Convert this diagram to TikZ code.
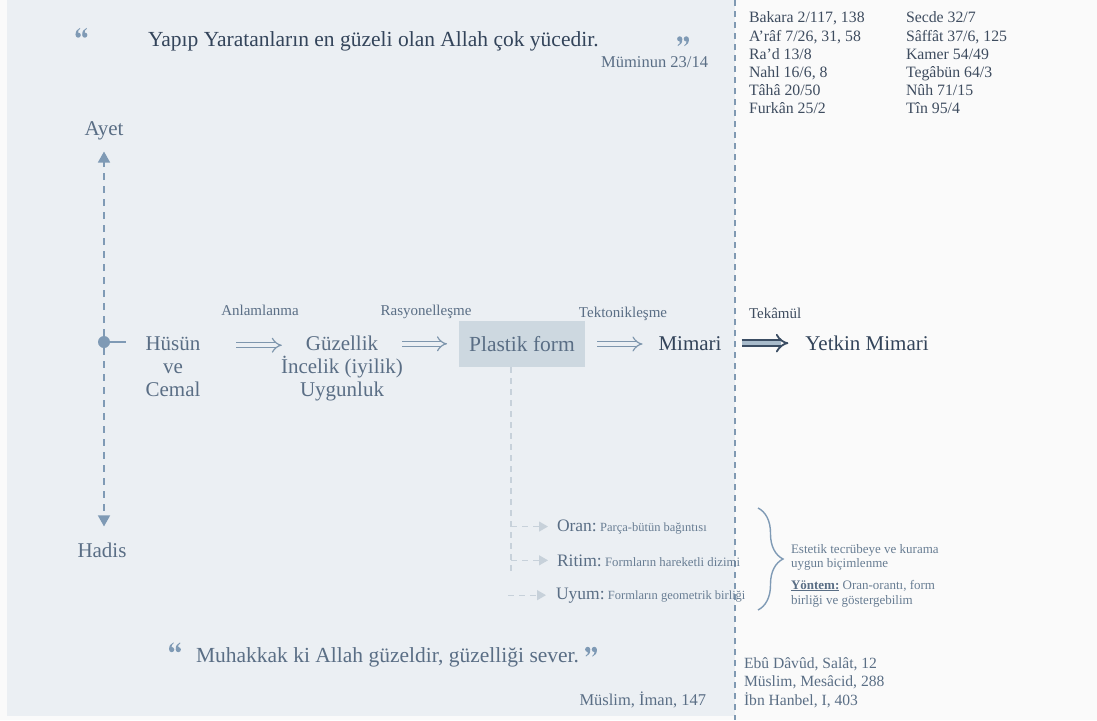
\documentclass[tikz,border=0pt]{standalone}
\usepackage{fontspec}
\setmainfont{Liberation Serif}
\usetikzlibrary{arrows.meta,decorations.pathreplacing,calc}

\definecolor{pagebg}{HTML}{FAFAFA}
\definecolor{panel}{HTML}{EBEFF3}
\definecolor{midtext}{HTML}{5A6E85}
\definecolor{darktext}{HTML}{33445A}
\definecolor{listtext}{HTML}{3E4C5F}
\definecolor{accent}{HTML}{7F9AB5}
\definecolor{hollowc}{HTML}{7E96AD}
\definecolor{divider}{HTML}{8099B2}
\definecolor{boxfill}{HTML}{CDD8E0}
\definecolor{branchc}{HTML}{C7D1DA}
\definecolor{thickedge}{HTML}{3B4D63}
\definecolor{thickfill}{HTML}{A8BBCB}
\definecolor{notetext}{HTML}{687D93}

\tikzset{
  every node/.style={inner sep=0pt, outer sep=0pt},
  big/.style={font=\fontsize{21}{23}\selectfont, text=midtext},
  verse/.style={font=\fontsize{21.5}{24}\selectfont},
  source/.style={font=\fontsize{16.5}{18}\selectfont, text=midtext},
  stage/.style={font=\fontsize{15}{17}\selectfont, text=midtext},
  reflist/.style={font=\fontsize{15.8}{18}\selectfont, text=listtext},
  hadislist/.style={font=\fontsize{15.6}{18}\selectfont, text=midtext},
  note/.style={font=\fontsize{13}{14}\selectfont, text=notetext},
  hollow/.style={draw=hollowc, double=panel, double distance=4pt, line width=1.2pt, -{Implies[scale=1.15]}},
  thick arrow/.style={draw=thickedge, double=thickfill, double distance=4.5pt, line width=1.8pt, -{Implies[scale=1.3]}},
  axis/.style={draw=accent, line width=1.5pt, dash pattern=on 7pt off 6pt, -{Triangle[length=11pt,width=12pt]}},
  branch/.style={draw=branchc, line width=1.3pt, dash pattern=on 6pt off 5pt, -{Triangle[length=9pt,width=10pt]}},
  divline/.style={draw=divider, line width=1.3pt, dash pattern=on 6pt off 5pt},
  bracket/.style={draw=accent, line width=1.4pt, decorate, decoration={brace, amplitude=25pt}},
  % closing quotation mark: two comma shapes, ball on top, tail below
  closeq/.pic={
    \foreach \dx in {-3.3,3.3}{
      \fill[accent] (\dx,-1.6) circle (2.6pt);
      \fill[accent] ({\dx+2.55},-1.4) .. controls ({\dx+2.8},2) and ({\dx+1.2},4.4) .. ({\dx-1.8},5.6)
        -- ({\dx-2},4.7) .. controls ({\dx-0.2},3.7) and ({\dx+0.6},2.2) .. ({\dx},0.9) -- cycle;
    }
  },
  openq/.pic={
    \pic[rotate=180] {closeq};
  },
}

\begin{document}
\begin{tikzpicture}[x=1pt, y=-1pt]
\useasboundingbox (0,0) rectangle (1097,720);
\fill[pagebg] (0,0) rectangle (1097,720);
\fill[panel] (7,0) rectangle (735,716);

% divider between the two columns
\coordinate (divtop) at (735,0);
\coordinate (divbot) at (735,720);
\draw[divline] (divtop) -- (divbot);

% upper verse
\pic (qo1) at (81.5,33.5) {openq};
\node[verse, text=darktext, anchor=base west] (verse1) at (148,46) {Yapıp Yaratanların en güzeli olan Allah çok yücedir.};
\pic (qc1) at (683,40.5) {closeq};
\node[source, anchor=base east] (src1) at (708,67) {Müminun 23/14};

% verse references
\foreach \t [count=\i] in {{Bakara 2/117, 138},{A’râf 7/26, 31, 58},{Ra’d 13/8},{Nahl 16/6, 8},{Tâhâ 20/50},{Furkân 25/2}}
  \node[reflist, anchor=base west] (refa\i) at (749,{23+18*(\i-1)}) {\t};
\foreach \t [count=\i] in {{Secde 32/7},{Sâffât 37/6, 125},{Kamer 54/49},{Tegâbün 64/3},{Nûh 71/15},{Tîn 95/4}}
  \node[reflist, anchor=base west] (refb\i) at (906,{23+18*(\i-1)}) {\t};

% sources axis
\node[big, anchor=base] (ayet) at (104,135) {Ayet};
\node[big, anchor=base] (hadis) at (102,557) {Hadis};
\node[circle, fill=accent, minimum size=12pt] (hub) at (104,342) {};
\draw[axis, shorten >=12pt] (hub) -- (hub |- ayet.south);
\draw[axis, shorten >=16pt] (hub) -- (hub |- hadis.north);

% main chain
\node[big, anchor=base] (husun) at (173,350) {Hüsün};
\node[big, anchor=base] (husun2) at (173,373) {ve};
\node[big, anchor=base] (husun3) at (173,396) {Cemal};
\draw[draw=accent, line width=1.5pt, shorten >=20pt] (hub) -- (hub -| husun.west);

\node[big, anchor=base] (guz) at (342,350) {Güzellik};
\node[big, anchor=base] (guz2) at (342,373) {İncelik (iyilik)};
\node[big, anchor=base] (guz3) at (342,396) {Uygunluk};

\node[fill=boxfill, minimum width=126pt, minimum height=46pt, font=\fontsize{21.5}{23}\selectfont, text=midtext] (plastik) at (522,344) {Plastik form};
\node[big, text=darktext, anchor=base] (mimari) at (690,350) {Mimari};
\node[big, text=darktext, anchor=base] (yetkin) at (867,350) {Yetkin Mimari};

\node[stage, anchor=base] (l1) at (260,315) {Anlamlanma};
\node[stage, anchor=base] (l2) at (426,315) {Rasyonelleşme};
\node[stage, anchor=base] (l3) at (623,317) {Tektonikleşme};
\node[stage, text=listtext, anchor=base west] (l4) at (749,318) {Tekâmül};

\draw[hollow, shorten <=36pt, shorten >=24pt] ([yshift=-2pt]husun.east) -- ([yshift=-2pt]husun.east -| guz.west);
\draw[hollow, shorten <=24pt, shorten >=12pt] ([yshift=-1pt]guz.east) -- ([yshift=-1pt]guz.east -| plastik.west);
\draw[hollow, shorten <=12pt, shorten >=16pt] (plastik.east) -- (plastik.east -| mimari.west);
\draw[thick arrow, shorten <=20pt, shorten >=17pt] (mimari.east) -- (mimari.east -| yetkin.west);

% form principles
\node[anchor=base west, text=midtext] (oran) at (557,531) {{\fontsize{17.5}{20}\selectfont Oran:} {\fontsize{12.5}{14}\selectfont\color{notetext}Parça-bütün bağıntısı}};
\node[anchor=base west, text=midtext] (ritim) at (557,566) {{\fontsize{17.5}{20}\selectfont Ritim:} {\fontsize{12.8}{14}\selectfont\color{notetext}Formların hareketli dizimi}};
\node[anchor=base west, text=midtext] (uyum) at (556,599) {{\fontsize{17.5}{20}\selectfont Uyum:} {\fontsize{12.5}{14}\selectfont\color{notetext}Formların geometrik birliği}};

\coordinate (vbot) at (511,575);
\draw[draw=branchc, line width=1.3pt, dash pattern=on 6pt off 5pt] (plastik.south -| vbot) -- (vbot);
\draw[branch, shorten >=9pt] (oran.west -| vbot) -- (oran.west);
\draw[branch, shorten >=9pt] (ritim.west -| vbot) -- (ritim.west);
\draw[branch, shorten <=3pt, shorten >=10pt] ([xshift=-51pt]uyum.west) -- (uyum.west);

% bracket and its note
\coordinate (brtop) at (758,508);
\coordinate (brbot) at (758,610);
\draw[bracket] (brtop) -- (brbot);
\node[note, anchor=base west] (n1) at (791,553) {Estetik tecrübeye ve kurama};
\node[note, anchor=base west] (n2) at (791,567) {uygun biçimlenme};
\node[note, anchor=base west] (n3) at (791,589) {{\color{midtext}\underline{\textbf{Yöntem:}}} Oran-orantı, form};
\node[note, anchor=base west] (n4) at (791,604) {birliği ve göstergebilim};

% lower hadith
\pic (qo2) at (175,648) {openq};
\node[verse, text=midtext, anchor=base west] (verse2) at (196,662) {Muhakkak ki Allah güzeldir, güzelliği sever.};
\pic (qc2) at (591,651) {closeq};
\node[source, anchor=base east] (src2) at (706,705) {Müslim, İman, 147};

\foreach \t [count=\i] in {{Ebû Dâvûd, Salât, 12},{Müslim, Mesâcid, 288},{İbn Hanbel, I, 403}}
  \node[hadislist, anchor=base west] (hd\i) at (744,{668+18.5*(\i-1)}) {\t};
\end{tikzpicture}
\end{document}
